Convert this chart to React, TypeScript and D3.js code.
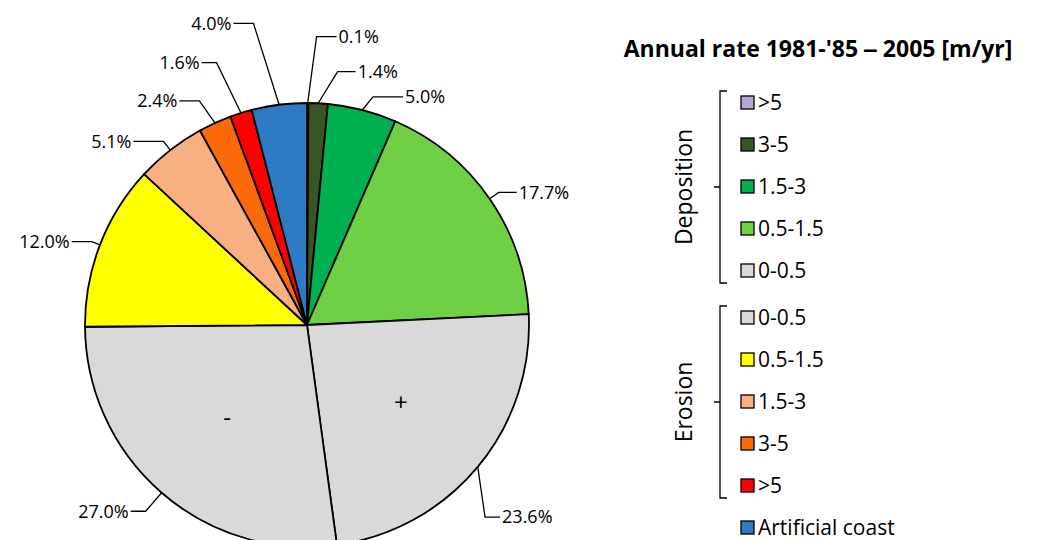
import React, { useEffect, useRef } from "react";
import * as d3 from "d3";

const categories = [">5", "3-5", "1.5-3", "0.5-1.5", "0-0.5", "0-0.5", "0.5-1.5", "1.5-3", "3-5", ">5", "Artificial coast"];
const groups = ["Deposition", "Deposition", "Deposition", "Deposition", "Deposition", "Erosion", "Erosion", "Erosion", "Erosion", "Erosion", "Artificial"];
const shares = [0.1, 1.4, 5.0, 17.7, 23.6, 27.0, 12.0, 5.1, 2.4, 1.6, 4.0];
const colors = ["#b4a7d6", "#375623", "#00b050", "#6fcf45", "#d9d9d9", "#d9d9d9", "#ffff00", "#f8b083", "#fa6a0a", "#ff0000", "#2e7bc4"];
// legend order (deposition high→low, erosion low→high, artificial)
const legendOrder = [0, 1, 2, 3, 4, 5, 6, 7, 8, 9, 10];
// leader elbow: [radius factor, angle shift (rad), horizontal run]
const leader: [number, number, number][] = [
  [1.3, 0.03, 20], [1.15, 0.07, 18], [1.07, 0.03, 30], [1.05, 0.0, 18], [1.18, 0.13, 15],
  [1.11, 0.0, -15], [1.04, 0.0, -20], [1.05, 0.0, -30], [1.12, -0.02, -20], [1.25, -0.03, -15], [1.38, -0.05, -20],
];

const W = 1037, H = 540;
const cx = 307, cy = 325, R = 222;
const font = "'Open Sans', sans-serif";

export default function App() {
  const ref = useRef<SVGSVGElement>(null);
  useEffect(() => {
    const svg = d3.select(ref.current);
    svg.selectAll("*").remove();
    const pie = d3.pie<number>().sort(null).value((d) => d);
    const arcs = pie(shares);
    const arc = d3.arc<d3.PieArcDatum<number>>().innerRadius(0).outerRadius(R);
    const g = svg.append("g").attr("transform", `translate(${cx},${cy})`);
    g.selectAll("path").data(arcs).enter().append("path")
      .attr("d", arc as any).attr("fill", (_, i) => colors[i])
      .attr("stroke", "#000").attr("stroke-width", 1.8).attr("stroke-linejoin", "round");

    // leader lines & labels
    arcs.forEach((a, i) => {
      const mid = (a.startAngle + a.endAngle) / 2;
      const [rf, da, run] = leader[i];
      const p0 = [R * Math.sin(mid), -R * Math.cos(mid)];
      const p1 = [R * rf * Math.sin(mid + da), -R * rf * Math.cos(mid + da)];
      const p2 = [p1[0] + run, p1[1]];
      g.append("polyline").attr("points", [p0, p1, p2].map((p) => p.join(",")).join(" "))
        .attr("fill", "none").attr("stroke", "#000").attr("stroke-width", 1.3);
      g.append("text").attr("x", p2[0] + (run > 0 ? 2 : -2)).attr("y", p2[1])
        .attr("dy", "0.35em").attr("text-anchor", run > 0 ? "start" : "end")
        .attr("font-family", font).attr("font-size", 18).text(`${shares[i].toFixed(1)}%`);
    });
    // + / - signs
    [4, 5].forEach((i) => {
      const c = d3.arc<d3.PieArcDatum<number>>().innerRadius(0).outerRadius(R * 1.1).centroid(arcs[i]);
      g.append("text").attr("x", c[0]).attr("y", c[1]).attr("text-anchor", "middle").attr("dy", "0.35em")
        .attr("font-family", font).attr("font-size", 24).text(i === 4 ? "+" : "-");
    });

    // legend
    svg.append("text").attr("x", 818).attr("y", 57).attr("text-anchor", "middle")
      .attr("font-family", font).attr("font-weight", "bold").attr("font-size", 23)
      .text("Annual rate 1981-'85 \u2012 2005 [m/yr]");
    const y = d3.scaleLinear().domain([0, 4]).range([103, 271]);
    const rowY = (k: number) => (k < 5 ? y(k) : y(k) + 5);
    legendOrder.forEach((i, k) => {
      const yy = rowY(k);
      svg.append("rect").attr("x", 741).attr("y", yy - 7).attr("width", 13).attr("height", 13)
        .attr("fill", colors[i]).attr("stroke", "#000").attr("stroke-width", 1.3);
      svg.append("text").attr("x", 758).attr("y", yy).attr("dy", "0.35em")
        .attr("font-family", font).attr("font-size", 21).text(categories[i]);
    });
    ["Deposition", "Erosion"].forEach((name, gi) => {
      const ks = groups.map((gr, k) => (gr === name ? k : -1)).filter((k) => k >= 0);
      const y0 = rowY(ks[0]) - 12, y1 = rowY(ks[ks.length - 1]) + 12, ym = (y0 + y1) / 2;
      svg.append("path").attr("d", `M727,${y0} H720 V${y1} H727 M720,${ym} H714`)
        .attr("fill", "none").attr("stroke", "#000").attr("stroke-width", 1.3);
      svg.append("text").attr("transform", `translate(692,${ym}) rotate(-90)`)
        .attr("text-anchor", "middle").attr("font-family", font).attr("font-size", 23).text(name);
    });
  }, []);
  return <svg ref={ref} width={W} height={H} style={{ position: "absolute", left: 0, top: 0, background: "#fff" }} />;
}
